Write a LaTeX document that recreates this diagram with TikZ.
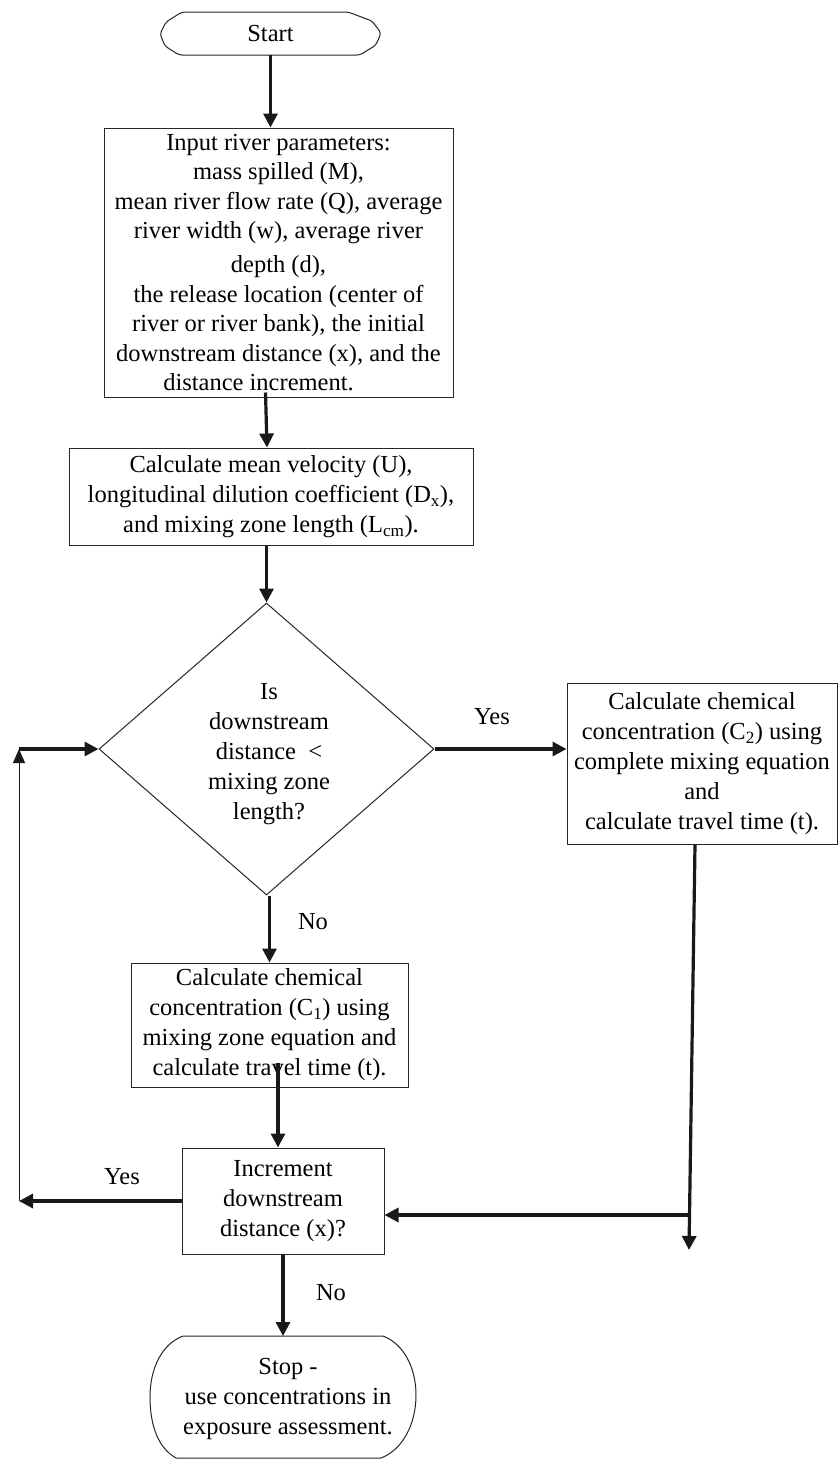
\documentclass[tikz,border=0pt]{standalone}
\usepackage{fontspec}
\setmainfont{Liberation Serif}
\usetikzlibrary{arrows.meta,shapes.geometric,calc}
\begin{document}
\begin{tikzpicture}[x=1pt,y=-1pt,
  txt/.style={font=\fontsize{24.5pt}{30pt}\selectfont, align=center, inner sep=0pt},
  box/.style={txt, draw=black!85, line width=1pt, rectangle},
  arr/.style={line width=3.2pt, black!90, -{Triangle[width=14pt,length=14pt]}},
  thinarr/.style={line width=1pt, black!90, -{Triangle[width=12pt,length=14pt]}},
  outline/.style={draw=black!85, line width=1pt},
  lbl/.style={font=\fontsize{24.5pt}{30pt}\selectfont, inner sep=0pt}]
\useasboundingbox (0,0) rectangle (838,1459);

% terminals and boxes
\node[txt, minimum width=221pt, minimum height=43pt] (start) at (270.5,33.5) {Start};
\draw[outline, rounded corners=3pt] (182,12) -- (348,12) -- (372,21) -- (381,33) -- (376,45) -- (360,55) -- (179,55) -- (165,46) -- (160,34) -- (166,22) -- cycle;

\node[box, font=\fontsize{24.5pt}{29.5pt}\selectfont, minimum width=349pt, minimum height=269pt] (input) at (278.5,262.5)
 {Input river parameters:\\ mass spilled (M),\\ mean river flow rate (Q), average\\ river width (w), average river\\[4.5pt] depth (d),\\ the release location (center of\\ river or river bank), the initial\\ downstream distance (x), and the\\ distance increment.\hspace*{40pt}};

\node[box, minimum width=404pt, minimum height=97pt] (calc) at (271,496.5)
 {Calculate mean velocity (U),\\ longitudinal dilution coefficient (D\textsubscript{x}),\\ and mixing zone length (L\textsubscript{cm}).};

\node[shape=diamond, draw=black!85, line width=1pt, inner sep=0pt, minimum width=335pt, minimum height=292pt] (dia) at (266.5,749) {};
\node[txt] (diatext) at (269,754)
 {Is\\ downstream\\ distance \ <\\ mixing zone\\ length?};

\node[box, minimum width=270pt, minimum height=161pt] (c2) at (702,763.5)
 {Calculate chemical\\ concentration (C\textsubscript{2}) using\\ complete mixing equation\\ and\\ calculate travel time (t).};

\node[box, minimum width=277pt, minimum height=124pt] (c1) at (269.5,1025)
 {Calculate chemical\\ concentration (C\textsubscript{1}) using\\ mixing zone equation and\\ calculate travel time (t).};

\node[box, minimum width=202pt, minimum height=106pt] (inc) at (283,1201)
 {Increment\\ downstream\\ distance (x)?};

\node[txt, minimum width=266pt, minimum height=122pt] (stop) at (288,1399)
 {Stop -\\ use concentrations in\\ exposure assessment.};
\draw[outline] (183,1336) -- (383,1336) .. controls (404,1344) and (416,1368) .. (416,1395) .. controls (416,1425) and (402,1450) .. (381,1458) -- (176,1458) .. controls (158,1448) and (150,1425) .. (150,1397) .. controls (150,1368) and (162,1344) .. (183,1336);

% labels
\node[lbl] (yes1) at (492,717) {Yes};
\node[lbl] (no1) at (313,922) {No};
\node[lbl] (yes2) at (122,1177) {Yes};
\node[lbl] (no2) at (331,1293) {No};

% helper coordinates
\coordinate (c1out) at ($(c1.south)+(8.5,-25)$);
\coordinate (loopB) at (19,1201);
\coordinate (loopT) at (19,749);
\coordinate (rj) at (689,1215);
\coordinate (rb) at (689,1250);
\coordinate (stoptop) at (283,1336);

% connectors
\draw[arr] (start.south) -- (start.south |- input.north);
\draw[arr] ($(input.south)+(-13,-5)$) -- ($(calc.north)+(-4,0)$);
\draw[arr] (dia.north |- calc.south) -- (dia.north);
\draw[arr] (dia.east) -- (dia.east -| c2.west);
\draw[arr] (c1.north |- dia.south) -- (c1.north);
\draw[arr] (c1out) -- (c1out |- inc.north);
\draw[arr] (inc.south) -- (stoptop);
\draw[arr] (inc.west) -- (loopB);
\draw[thinarr] (loopB) -- (loopT);
\draw[arr] (loopT) -- (dia.west);
\draw[arr] ($(c2.south)+(-7,0)$) -- (rb);
\draw[arr] (rj) -- (rj -| inc.east);
\end{tikzpicture}
\end{document}
